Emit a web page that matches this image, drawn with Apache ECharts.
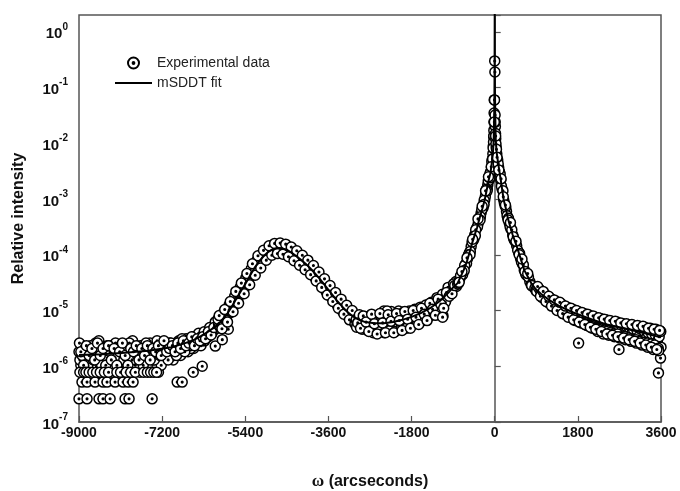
<!DOCTYPE html>
<html>
<head>
<meta charset="utf-8">
<script src="https://cdn.jsdelivr.net/npm/echarts@6/dist/echarts.min.js"></script>
<style>html,body{margin:0;padding:0;background:#fff}#c{width:680px;height:491px}</style>
</head>
<body>
<div id="c"></div>
<script>
// ---------- data ----------
const seriesNames = ['Experimental data', 'mSDDT fit'];
const xMin = -9000, xMax = 3600, xInterval = 1800;
const yMin = 1e-7, yMax = 2;

// left plateau (several overlapping scans)
const plateauA = [
[-9000,1.82e-6],[-8960,1.04e-6],[-8920,2.34e-6],[-8880,1.3e-6],[-8840,0.78e-6],[-8800,1.56e-6],[-8760,2.08e-6],[-8720,1.3e-6],
[-8680,1.04e-6],[-8640,2.6e-6],[-8600,1.56e-6],[-8560,0.78e-6],[-8520,1.82e-6],[-8480,1.3e-6],[-8440,2.08e-6],[-8400,1.04e-6],
[-8360,1.56e-6],[-8320,2.34e-6],[-8280,0.78e-6],[-8240,1.82e-6],[-8200,1.3e-6],[-8160,1.04e-6],[-8120,2.08e-6],[-8080,1.56e-6],
[-8040,0.78e-6],[-8000,2.34e-6],[-7960,1.3e-6],[-7920,1.82e-6],[-7880,1.04e-6],[-7840,2.86e-6],[-7800,1.56e-6],[-7760,1.3e-6],
[-7720,2.08e-6],[-7680,0.78e-6],[-7640,1.82e-6],[-7600,1.56e-6],[-7560,2.34e-6],[-7520,1.04e-6],[-7480,1.82e-6],[-7440,2.08e-6],
[-7400,1.3e-6],[-7360,2.6e-6],[-7320,1.56e-6],[-7280,0.78e-6],[-7240,2.08e-6],[-7200,1.82e-6],[-7160,1.3e-6],[-7120,2.34e-6],
[-7080,1.56e-6],[-7040,2.6e-6],[-7000,1.82e-6],[-6960,1.3e-6],[-6920,2.34e-6],[-6880,2.08e-6],[-6840,2.86e-6],[-6800,1.56e-6],
[-6760,2.6e-6],[-6720,2.08e-6],[-6680,3.12e-6],[-6640,1.82e-6],[-6600,2.34e-6],[-6560,2.86e-6],[-6520,2.08e-6],[-6480,3.38e-6],
[-6440,2.6e-6],[-6400,3.12e-6],[-6360,2.34e-6],[-6320,3.64e-6],[-6280,2.86e-6],[-6240,4.16e-6],[-6200,3.38e-6],[-6160,4.42e-6],
[-6120,3.9e-6],[-6080,5.2e-6],[-6040,4.68e-6],[-6000,5.98e-6]
];
const plateauB = [
[-8980,1.3e-6],[-8900,2.08e-6],[-8820,1.56e-6],[-8740,1.04e-6],[-8660,1.82e-6],[-8580,2.34e-6],[-8500,1.3e-6],[-8420,1.56e-6],
[-8340,1.04e-6],[-8260,2.08e-6],[-8180,1.56e-6],[-8100,1.82e-6],[-8020,1.3e-6],[-7940,2.34e-6],[-7860,1.56e-6],[-7780,1.04e-6],
[-7700,2.08e-6],[-7620,1.3e-6],[-7540,1.82e-6],[-7460,2.6e-6],[-7380,1.56e-6],[-7300,1.82e-6],[-7220,1.04e-6],[-7140,2.08e-6],
[-7060,2.34e-6],[-6980,1.56e-6],[-6900,2.6e-6],[-6820,1.82e-6],[-6740,2.34e-6],[-6660,2.6e-6],[-6580,2.08e-6],[-6500,2.86e-6],
[-6420,3.38e-6],[-6340,2.86e-6],[-6260,3.64e-6],[-6180,3.9e-6],[-6100,4.68e-6],[-6020,5.2e-6]
];
const plateauC = [
[-8990,2.6e-6],[-8930,1.56e-6],[-8870,2.08e-6],[-8810,1.04e-6],[-8750,2.34e-6],[-8690,1.3e-6],[-8630,1.82e-6],[-8570,2.86e-6],
[-8510,1.04e-6],[-8450,1.56e-6],[-8390,2.34e-6],[-8330,1.82e-6],[-8270,1.04e-6],[-8210,2.6e-6],[-8150,1.56e-6],[-8090,2.34e-6],
[-8030,1.3e-6],[-7970,1.82e-6],[-7910,2.6e-6],[-7850,1.3e-6],[-7790,2.08e-6],[-7730,1.56e-6],[-7670,2.34e-6],[-7610,1.04e-6],
[-7550,2.6e-6],[-7490,1.56e-6],[-7430,2.08e-6],[-7370,1.3e-6],[-7310,2.86e-6],[-7250,1.56e-6],[-7190,2.34e-6],[-7130,1.82e-6],
[-7070,1.3e-6],[-7010,2.6e-6],[-6950,2.08e-6],[-6890,1.56e-6],[-6830,2.34e-6],[-6770,3.12e-6],[-6710,1.82e-6],[-6650,2.86e-6],
[-6590,2.34e-6],[-6530,3.38e-6],[-6470,2.6e-6],[-6410,3.9e-6],[-6350,3.12e-6],[-6290,4.16e-6],[-6230,3.38e-6],[-6170,4.94e-6],
[-6110,4.42e-6],[-6050,6.24e-6]
];
const plateauD = [
[-8960,1.82e-6],[-8900,1.04e-6],[-8840,2.34e-6],[-8780,1.56e-6],[-8720,2.08e-6],[-8660,1.3e-6],[-8600,2.6e-6],[-8540,1.56e-6],
[-8480,2.08e-6],[-8420,1.04e-6],[-8360,2.34e-6],[-8300,1.3e-6],[-8240,2.08e-6],[-8180,1.04e-6],[-8120,1.82e-6],[-8060,2.6e-6],
[-8000,1.56e-6],[-7940,1.04e-6],[-7880,2.08e-6],[-7820,1.82e-6],[-7760,2.34e-6],[-7700,1.3e-6],[-7640,2.08e-6],[-7580,1.56e-6],
[-7520,2.34e-6],[-7460,1.3e-6],[-7400,2.08e-6],[-7340,1.82e-6],[-7280,2.34e-6],[-7220,1.56e-6],[-7160,2.86e-6],[-7100,1.82e-6],
[-7040,2.08e-6],[-6980,2.34e-6],[-6920,1.82e-6],[-6860,2.6e-6],[-6800,2.08e-6],[-6740,2.86e-6],[-6680,2.34e-6],[-6620,2.6e-6],
[-6560,3.38e-6],[-6500,2.34e-6],[-6440,3.12e-6],[-6380,2.86e-6],[-6320,3.38e-6],[-6260,3.12e-6],[-6200,4.16e-6],[-6140,3.64e-6],
[-6080,4.94e-6]
];
// low-count points on the plateau
const plateauLow = [
[-9000,2.6e-7],[-8826,2.6e-7],[-8566,2.6e-7],[-8480,2.6e-7],[-8327,2.6e-7],[-8002,2.6e-7],[-7916,2.6e-7],[-7417,2.6e-7],
[-8935,5.2e-7],[-8826,5.2e-7],[-8653,5.2e-7],[-8480,5.2e-7],[-8393,5.2e-7],[-8219,5.2e-7],[-8046,5.2e-7],[-7937,5.2e-7],
[-7829,5.2e-7],[-6874,5.2e-7],[-6766,5.2e-7],
[-8980,7.8e-7],[-8900,7.8e-7],[-8850,7.8e-7],[-8780,7.8e-7],[-8700,7.8e-7],[-8620,7.8e-7],[-8540,7.8e-7],[-8450,7.8e-7],
[-8360,7.8e-7],[-8180,7.8e-7],[-8100,7.8e-7],[-7980,7.8e-7],[-7880,7.8e-7],[-7780,7.8e-7],[-7600,7.8e-7],[-7520,7.8e-7],
[-7450,7.8e-7],[-7380,7.8e-7],[-7320,7.8e-7],[-6527,7.8e-7],[-6332,1.0e-6],[-6050,2.3e-6],[-5898,3.0e-6],[-5768,4.6e-6]
];
// satellite hump
const humpA = [
[-5980,5.8e-6],[-5940,6.6e-6],[-5900,6.2e-6],[-5860,7.8e-6],[-5820,8.0e-6],[-5780,9.5e-6],[-5740,9.0e-6],[-5700,1.15e-5],
[-5660,1.25e-5],[-5620,1.5e-5],[-5580,1.7e-5],[-5540,1.95e-5],[-5500,2.2e-5],[-5460,2.45e-5],[-5420,2.9e-5],[-5380,3.1e-5],
[-5340,3.7e-5],[-5300,4.0e-5],[-5260,4.7e-5],[-5220,5.3e-5],[-5180,6.0e-5],[-5140,6.8e-5],[-5100,7.3e-5],[-5060,8.2e-5],
[-5020,8.9e-5],[-4980,9.8e-5],[-4940,1.05e-4],[-4900,1.13e-4],[-4860,1.18e-4],[-4820,1.25e-4],[-4780,1.27e-4],[-4740,1.31e-4],
[-4700,1.33e-4],[-4660,1.3e-4],[-4620,1.32e-4],[-4580,1.27e-4],[-4540,1.26e-4],[-4500,1.2e-4],[-4460,1.17e-4],[-4420,1.1e-4],
[-4380,1.06e-4],[-4340,1.0e-4],[-4300,9.6e-5],[-4260,9.0e-5],[-4220,8.3e-5],[-4180,7.9e-5],[-4140,7.2e-5],[-4100,6.9e-5],
[-4060,6.3e-5],[-4020,5.9e-5],[-3980,5.4e-5],[-3940,5.0e-5],[-3900,4.6e-5],[-3860,4.3e-5],[-3820,3.9e-5],[-3780,3.5e-5],
[-3740,3.3e-5],[-3700,2.9e-5],[-3660,2.7e-5],[-3620,2.4e-5],[-3580,2.15e-5],[-3540,1.95e-5],[-3500,1.75e-5],[-3460,1.6e-5],
[-3420,1.5e-5],[-3380,1.35e-5],[-3340,1.25e-5],[-3300,1.1e-5],[-3260,1.05e-5],[-3220,9.6e-6],[-3180,9.2e-6],[-3140,8.4e-6],
[-3100,7.9e-6],[-3060,7.6e-6],[-3020,7.1e-6]
];
const humpB = [
[-5960,5.2e-6],[-5880,7.2e-6],[-5800,1.0e-5],[-5720,1.0e-5],[-5640,1.55e-5],[-5560,1.65e-5],[-5480,2.6e-5],[-5400,2.7e-5],
[-5320,4.4e-5],[-5240,4.5e-5],[-5160,7.0e-5],[-5080,7.0e-5],[-5000,1.05e-4],[-4920,1.0e-4],[-4840,1.3e-4],[-4760,1.2e-4],
[-4680,1.42e-4],[-4600,1.22e-4],[-4520,1.35e-4],[-4440,1.05e-4],[-4360,1.12e-4],[-4280,8.6e-5],[-4200,8.8e-5],[-4120,6.4e-5],
[-4040,6.6e-5],[-3960,4.6e-5],[-3880,4.9e-5],[-3800,3.3e-5],[-3720,3.4e-5],[-3640,2.3e-5],[-3560,2.3e-5],[-3480,1.5e-5],
[-3400,1.6e-5],[-3320,1.05e-5],[-3240,1.15e-5],[-3160,7.8e-6],[-3080,8.5e-6]
];
const humpC = [
[-5990,7.0e-6],[-5930,5.0e-6],[-5870,9.2e-6],[-5810,6.6e-6],[-5750,1.25e-5],[-5690,9.6e-6],[-5630,1.8e-5],[-5570,1.4e-5],
[-5510,2.6e-5],[-5450,2.1e-5],[-5390,3.8e-5],[-5330,3.1e-5],[-5270,5.6e-5],[-5210,4.7e-5],[-5150,7.9e-5],[-5090,6.6e-5],
[-5030,1.04e-4],[-4970,8.6e-5],[-4910,1.28e-4],[-4850,1.05e-4],[-4790,1.45e-4],[-4730,1.15e-4],[-4670,1.5e-4],[-4610,1.14e-4],
[-4550,1.44e-4],[-4490,1.05e-4],[-4430,1.3e-4],[-4370,9.2e-5],[-4310,1.1e-4],[-4250,7.6e-5],[-4190,9.3e-5],[-4130,6.3e-5],
[-4070,7.6e-5],[-4010,5.0e-5],[-3950,6.0e-5],[-3890,3.9e-5],[-3830,4.8e-5],[-3770,3.0e-5],[-3710,3.6e-5],[-3650,2.2e-5],
[-3590,2.7e-5],[-3530,1.7e-5],[-3470,2.0e-5],[-3410,1.25e-5],[-3350,1.5e-5],[-3290,9.6e-6],[-3230,1.2e-5],[-3170,7.6e-6],
[-3110,9.6e-6],[-3050,6.4e-6]
];
const humpD = [
[-5965,8.1e-6],[-5905,4.7e-6],[-5845,1.04e-5],[-5785,6.2e-6],[-5725,1.45e-5],[-5665,9.5e-6],[-5605,2.2e-5],[-5545,1.35e-5],
[-5485,3.1e-5],[-5425,2.0e-5],[-5365,4.6e-5],[-5305,2.9e-5],[-5245,6.9e-5],[-5185,4.3e-5],[-5125,9.6e-5],[-5065,5.8e-5],
[-5005,1.2e-4],[-4945,8.0e-5],[-4885,1.45e-4],[-4825,9.8e-5],[-4765,1.6e-4],[-4705,1.05e-4],[-4645,1.62e-4],[-4585,1.02e-4],
[-4525,1.55e-4],[-4465,9.2e-5],[-4405,1.38e-4],[-4345,7.8e-5],[-4285,1.18e-4],[-4225,6.5e-5],[-4165,9.8e-5],[-4105,5.4e-5],
[-4045,8.0e-5],[-3985,4.4e-5],[-3925,6.4e-5],[-3865,3.4e-5],[-3805,4.9e-5],[-3745,2.6e-5],[-3685,3.7e-5],[-3625,1.9e-5],
[-3565,2.8e-5],[-3505,1.45e-5],[-3445,2.1e-5],[-3385,1.1e-5],[-3325,1.6e-5],[-3265,8.6e-6],[-3205,1.24e-5],[-3145,6.8e-6],
[-3085,1.0e-5],[-3025,5.8e-6]
];
// valley between hump and main peak
const valleyA = [
[-3000,6.8e-6],[-2960,6.2e-6],[-2920,7.4e-6],[-2880,5.6e-6],[-2840,6.6e-6],[-2800,5.2e-6],[-2760,7.0e-6],[-2720,5.0e-6],
[-2680,6.4e-6],[-2640,4.6e-6],[-2600,7.2e-6],[-2560,5.4e-6],[-2520,4.4e-6],[-2480,6.8e-6],[-2440,5.0e-6],[-2400,9.8e-6],
[-2360,5.6e-6],[-2320,4.6e-6],[-2280,7.0e-6],[-2240,9.6e-6],[-2200,5.2e-6],[-2160,6.6e-6],[-2120,4.8e-6],[-2080,9.8e-6],
[-2040,6.2e-6],[-2000,5.4e-6],[-1960,7.6e-6],[-1920,6.0e-6],[-1880,9.2e-6],[-1840,5.6e-6],[-1800,8.2e-6],[-1760,6.6e-6],
[-1720,9.4e-6],[-1680,7.0e-6],[-1640,8.8e-6],[-1600,7.4e-6],[-1560,1.0e-5],[-1520,8.2e-6],[-1480,1.1e-5],[-1440,9.0e-6],
[-1400,1.2e-5],[-1360,1.0e-5],[-1320,1.3e-5],[-1280,1.1e-5],[-1240,1.45e-5],[-1200,1.25e-5],[-1160,1.6e-5],[-1120,8.0e-6],
[-1080,1.75e-5],[-1040,1.7e-5],[-1000,2.3e-5],[-960,2.5e-5],[-920,2.6e-5],[-880,2.9e-5],[-840,3.3e-5]
];
const valleyB = [
[-2980,5.6e-6],[-2900,6.0e-6],[-2820,4.8e-6],[-2740,6.0e-6],[-2660,5.4e-6],[-2580,4.4e-6],[-2500,5.8e-6],[-2420,4.2e-6],
[-2340,6.2e-6],[-2260,5.0e-6],[-2180,4.6e-6],[-2100,5.8e-6],[-2020,5.0e-6],[-1940,6.8e-6],[-1860,5.6e-6],[-1780,7.2e-6],
[-1700,6.4e-6],[-1620,8.0e-6],[-1540,7.6e-6],[-1460,9.6e-6],[-1380,9.4e-6],[-1300,1.15e-5],[-1220,1.2e-5],[-1140,1.4e-5],
[-1060,1.5e-5],[-980,2.2e-5],[-900,2.7e-5]
];
const valleyC = [
[-2990,5.0e-6],[-2930,8.4e-6],[-2870,4.6e-6],[-2810,7.8e-6],[-2750,4.4e-6],[-2690,7.6e-6],[-2630,4.0e-6],[-2570,7.8e-6],
[-2510,4.2e-6],[-2450,7.4e-6],[-2390,4.0e-6],[-2330,9.8e-6],[-2270,4.4e-6],[-2210,7.8e-6],[-2150,4.2e-6],[-2090,8.2e-6],
[-2030,4.6e-6],[-1970,9.4e-6],[-1910,4.8e-6],[-1850,9.8e-6],[-1790,5.6e-6],[-1730,1.05e-5],[-1670,6.0e-6],[-1610,1.15e-5],
[-1550,6.6e-6],[-1490,1.25e-5],[-1430,7.6e-6],[-1370,1.4e-5],[-1310,9.0e-6],[-1250,1.7e-5],[-1190,1.1e-5],[-1130,1.95e-5],
[-1070,1.4e-5],[-1010,2.6e-5],[-950,2.0e-5],[-890,3.0e-5],[-830,2.7e-5]
];
const valleyD = [
[-2965,6.0e-6],[-2905,4.8e-6],[-2845,8.0e-6],[-2785,6.2e-6],[-2725,4.2e-6],[-2665,8.6e-6],[-2605,5.8e-6],[-2545,3.8e-6],
[-2485,8.8e-6],[-2425,6.0e-6],[-2365,4.0e-6],[-2305,8.4e-6],[-2245,6.4e-6],[-2185,4.0e-6],[-2125,8.8e-6],[-2065,6.6e-6],
[-2005,4.4e-6],[-1945,9.6e-6],[-1885,7.0e-6],[-1825,4.8e-6],[-1765,1.0e-5],[-1705,7.6e-6],[-1645,5.6e-6],[-1585,1.1e-5],
[-1525,8.6e-6],[-1465,6.6e-6],[-1405,1.35e-5],[-1345,1.05e-5],[-1285,8.2e-6],[-1225,1.6e-5],[-1165,1.3e-5],[-1105,1.1e-5],
[-1045,2.1e-5],[-985,1.8e-5],[-925,2.0e-5],[-865,2.8e-5]
];
// main substrate peak: left branch, centre, right branch (three scans)
const peakLeft = [
[-10,0.06],[-16,0.024],[-22,0.013],[-30,0.009],[-40,0.0065],[-55,0.005],[-70,0.0037],[-90,0.003],[-110,0.0026],[-130,0.0022],
[-150,0.0018],[-170,0.0015],[-190,0.0013],[-217,9.6e-4],[-240,8.0e-4],[-265,6.8e-4],[-295,5.6e-4],[-325,4.6e-4],[-355,3.7e-4],
[-390,3.0e-4],[-434,2.26e-4],[-470,1.8e-4],[-510,1.4e-4],[-545,1.1e-4],[-590,8.5e-5],[-630,6.8e-5],[-672,5.3e-5],[-720,4.3e-5],
[-760,3.6e-5],[-803,3.0e-5],
[-13,0.035],[-19,0.017],[-26,0.0105],[-35,0.0082],[-48,0.0052],[-62,0.0046],[-80,0.0031],[-100,0.0029],[-120,0.0022],[-140,0.0021],
[-160,0.0015],[-180,0.0015],[-204,0.0011],[-228,9.5e-4],[-252,7.0e-4],[-280,6.4e-4],[-310,4.8e-4],[-340,4.3e-4],[-372,3.2e-4],
[-412,2.8e-4],[-452,1.9e-4],[-490,1.7e-4],[-528,1.15e-4],[-568,1.0e-4],[-610,7.0e-5],[-650,6.4e-5],[-696,4.4e-5],[-740,4.2e-5],
[-782,3.1e-5],
[-20,0.0135],[-45,0.0052],[-75,0.0038],[-105,0.0024],[-135,0.0025],[-165,0.0014],[-198,0.0014],[-232,8.0e-4],[-272,7.4e-4],
[-318,4.2e-4],[-362,4.4e-4],[-420,2.2e-4],[-478,1.9e-4],[-535,1.0e-4],[-600,8.8e-5],[-660,5.2e-5],[-710,5.0e-5],[-770,3.2e-5]
];
const peakCentre = [[0,0.30],[4,0.19],[-4,0.06],[8,0.032],[-8,0.024]];
const peakRight = [
[14,0.02],[22,0.012],[32,0.0085],[45,0.0065],[65,0.005],[85,0.0037],[105,0.003],[130,0.0022],[160,0.0015],[195,9.6e-4],
[225,7.6e-4],[255,6.0e-4],[282,4.6e-4],[315,3.7e-4],[350,2.9e-4],[390,2.26e-4],[430,1.8e-4],[475,1.45e-4],[520,1.1e-4],
[560,8.6e-5],[600,6.8e-5],[640,5.3e-5],[700,4.2e-5],[760,3.3e-5],[820,2.7e-5],[890,2.3e-5],
[11,0.024],[18,0.015],[27,0.0098],[38,0.0078],[55,0.0052],[75,0.0043],[95,0.0031],[118,0.0028],[145,0.0017],[178,0.0014],
[210,8.4e-4],[240,7.2e-4],[268,5.0e-4],[298,4.5e-4],[332,3.2e-4],[370,2.8e-4],[410,1.95e-4],[452,1.7e-4],[497,1.2e-4],
[540,1.05e-4],[580,7.4e-5],[620,6.6e-5],[670,4.5e-5],[730,4.0e-5],[790,2.9e-5],[855,2.6e-5],
[20,0.0135],[50,0.0056],[90,0.0033],[138,0.0023],[185,0.0011],[232,7.8e-4],[290,4.2e-4],[340,3.8e-4],[400,2.1e-4],
[460,1.75e-4],[530,1.0e-4],[590,8.4e-5],[655,5.0e-5],[715,4.6e-5],[800,2.8e-5],[870,2.5e-5]
];
// right tail
const rightA = [
[920,2.4e-5],[960,2.2e-5],[1000,2.1e-5],[1040,1.9e-5],[1080,1.8e-5],[1120,1.6e-5],[1160,1.65e-5],[1200,1.45e-5],[1240,1.5e-5],
[1280,1.3e-5],[1320,1.35e-5],[1360,1.15e-5],[1400,1.25e-5],[1440,1.1e-5],[1480,1.15e-5],[1520,9.6e-6],[1560,1.05e-5],
[1600,9.0e-6],[1640,1.0e-5],[1680,8.4e-6],[1720,9.2e-6],[1760,7.6e-6],[1800,8.8e-6],[1840,7.4e-6],[1880,8.2e-6],
[1920,6.6e-6],[1960,7.8e-6],[2000,6.4e-6],[2040,7.6e-6],[2080,5.8e-6],[2120,7.0e-6],[2160,5.4e-6],[2200,6.8e-6],
[2240,5.2e-6],[2280,6.4e-6],[2320,4.8e-6],[2360,6.2e-6],[2400,4.4e-6],[2440,6.0e-6],[2480,4.6e-6],[2520,5.6e-6],
[2560,4.2e-6],[2600,5.6e-6],[2640,4.4e-6],[2680,5.4e-6],[2720,3.8e-6],[2760,5.0e-6],[2800,4.0e-6],[2840,5.2e-6],
[2880,3.6e-6],[2920,4.8e-6],[2960,3.8e-6],[3000,4.6e-6],[3040,3.2e-6],[3080,4.4e-6],[3120,3.4e-6],[3160,4.6e-6],
[3200,3.0e-6],[3240,4.2e-6],[3280,3.2e-6],[3320,4.0e-6],[3360,2.8e-6],[3400,3.8e-6],[3440,2.6e-6],[3480,3.6e-6],
[3520,2.8e-6],[3560,3.4e-6],[3600,2.2e-6]
];
const rightB = [
[900,2.4e-5],[980,2.0e-5],[1060,1.75e-5],[1140,1.5e-5],[1220,1.3e-5],
[1300,1.15e-5],[1380,1.05e-5],[1460,1.0e-5],[1540,8.8e-6],[1620,8.0e-6],[1700,7.4e-6],[1780,6.8e-6],[1860,6.4e-6],
[1940,6.0e-6],[2020,5.4e-6],[2100,5.2e-6],[2180,4.8e-6],[2260,4.6e-6],[2340,4.4e-6],[2420,4.2e-6],[2500,4.0e-6],
[2580,3.8e-6],[2660,3.8e-6],[2740,3.4e-6],[2820,3.4e-6],[2900,3.2e-6],[2980,3.0e-6],[3060,3.0e-6],[3140,2.8e-6],
[3220,2.7e-6],[3300,2.6e-6],[3380,2.5e-6],[3460,2.4e-6],[3540,2.1e-6],[3590,1.4e-6]
];
const rightC = [
[910,2.2e-5],[970,2.4e-5],[1030,1.7e-5],[1090,1.95e-5],
[1150,1.4e-5],[1210,1.65e-5],[1270,1.2e-5],[1330,1.45e-5],[1390,1.0e-5],[1450,1.3e-5],[1510,8.6e-6],[1570,1.15e-5],
[1630,7.6e-6],[1690,1.05e-5],[1750,6.6e-6],[1810,9.6e-6],[1870,6.0e-6],[1930,8.8e-6],[1990,5.4e-6],[2050,8.2e-6],
[2110,4.8e-6],[2170,7.6e-6],[2230,4.2e-6],[2290,7.2e-6],[2350,3.8e-6],[2410,6.8e-6],[2470,3.6e-6],[2530,6.4e-6],
[2590,3.4e-6],[2650,6.2e-6],[2710,3.2e-6],[2770,5.8e-6],[2830,3.0e-6],[2890,5.6e-6],[2950,2.8e-6],[3010,5.4e-6],
[3070,2.6e-6],[3130,5.2e-6],[3190,2.4e-6],[3250,5.0e-6],[3310,2.2e-6],[3370,4.8e-6],[3430,2.0e-6],[3490,4.6e-6],
[3550,1.9e-6],[3595,4.2e-6]
];
const rightD = [
[930,2.7e-5],[990,1.8e-5],[1050,2.2e-5],[1110,1.45e-5],[1170,1.8e-5],[1230,1.2e-5],[1290,1.55e-5],[1350,1.0e-5],
[1410,1.4e-5],[1470,8.8e-6],[1530,1.2e-5],[1590,7.6e-6],[1650,1.1e-5],[1710,6.8e-6],[1770,1.0e-5],[1830,6.2e-6],
[1890,9.2e-6],[1950,5.6e-6],[2010,8.6e-6],[2070,5.0e-6],[2130,8.0e-6],[2190,4.6e-6],[2250,7.4e-6],[2310,4.2e-6],
[2370,7.0e-6],[2430,3.8e-6],[2490,6.6e-6],[2550,3.6e-6],[2610,6.4e-6],[2670,3.4e-6],[2730,6.0e-6],[2790,3.2e-6],
[2850,5.8e-6],[2910,3.0e-6],[2970,5.6e-6],[3030,2.8e-6],[3090,5.4e-6],[3150,2.6e-6],[3210,5.2e-6],[3270,2.4e-6],
[3330,4.8e-6],[3390,2.2e-6],[3450,4.6e-6],[3510,2.0e-6],[3570,4.4e-6]
];
const outliers = [[1816,2.6e-6],[2690,2.0e-6],[3545,7.6e-7],[-1128,7.6e-6]];

// mSDDT fit curve
const fitX = [-9000,-8500,-8000,-7500,-7000,-6700,-6500,-6300,-6150,-6000,-5900,-5800,-5700,-5600,-5500,-5400,-5300,-5200,-5100,-5000,
-4900,-4800,-4700,-4600,-4500,-4400,-4300,-4200,-4100,-4000,-3900,-3800,-3700,-3600,-3500,-3400,-3300,-3200,-3100,-3000,
-2900,-2800,-2600,-2400,-2200,-2000,-1800,-1600,-1400,-1200,-1100,-1000,-900,-803,-740,-672,-610,-545,-490,-434,
-380,-325,-270,-217,-170,-130,-90,-55,-35,-22,-12,-6,-3,0,3,6,12,22,40,65,
100,130,160,195,240,282,335,390,455,520,580,640,720,800,890,1000,1200,1400,1700,2000,
2400,2800,3200,3600];
const fitY = [1.6e-6,1.65e-6,1.75e-6,1.9e-6,2.2e-6,2.6e-6,3.0e-6,3.7e-6,4.5e-6,5.5e-6,6.8e-6,8.5e-6,1.15e-5,1.6e-5,2.2e-5,3.0e-5,4.2e-5,5.8e-5,7.6e-5,9.5e-5,
1.13e-4,1.26e-4,1.32e-4,1.3e-4,1.22e-4,1.09e-4,9.5e-5,8.2e-5,7.0e-5,5.8e-5,4.7e-5,3.8e-5,3.0e-5,2.35e-5,1.85e-5,1.45e-5,1.17e-5,9.6e-6,8.2e-6,7.2e-6,
6.6e-6,6.2e-6,5.9e-6,5.9e-6,6.2e-6,6.8e-6,7.7e-6,9.0e-6,1.1e-5,1.45e-5,1.75e-5,2.1e-5,2.6e-5,3.1e-5,4.0e-5,5.3e-5,7.2e-5,1.1e-4,1.6e-4,2.26e-4,
3.1e-4,4.6e-4,6.6e-4,9.6e-4,1.5e-3,2.2e-3,3.0e-3,5.0e-3,7.5e-3,1.15e-2,0.03,0.08,0.2,3,0.2,0.08,0.03,1.15e-2,7.0e-3,5.0e-3,
3.2e-3,2.2e-3,1.5e-3,9.6e-4,6.8e-4,4.6e-4,3.2e-4,2.26e-4,1.6e-4,1.1e-4,7.6e-5,5.3e-5,4.0e-5,3.0e-5,2.4e-5,2.0e-5,1.5e-5,1.2e-5,9.2e-6,7.4e-6,
5.7e-6,4.8e-6,4.0e-6,3.3e-6];

// ---------- chart ----------
const expData = [].concat(plateauA, plateauB, plateauC, plateauD, plateauLow, humpA, humpB, humpC, humpD,
  valleyA, valleyB, valleyC, valleyD, peakLeft, peakRight, peakCentre, rightA, rightB, rightC, rightD, outliers);
const fitData = fitX.map((x, i) => [x, fitY[i]]);
const ringDot = 'path://M0,-10A10,10 0 1,1 0,10A10,10 0 1,1 0,-10ZM0,-1.6A1.6,1.6 0 1,1 0,1.6A1.6,1.6 0 1,1 0,-1.6Z';
const lineIcon = 'path://M0,0H40V2H0Z';
const FONT = '"Liberation Sans", Arial, Helvetica, sans-serif';

const chart = echarts.init(document.getElementById('c'), null, {renderer: 'canvas'});
chart.setOption({
  animation: false,
  backgroundColor: '#fff',
  grid: {left: 79, right: 19, top: 15, bottom: 69, containLabel: false, outerBoundsMode: 'none',
    show: true, borderColor: '#555', borderWidth: 1.5, backgroundColor: 'transparent'},
  legend: {
    orient: 'vertical', left: 110, top: 51, itemWidth: 37, itemHeight: 11, itemGap: 6,
    textStyle: {fontFamily: FONT, fontSize: 14, color: '#222'},
    data: [
      {name: seriesNames[0], icon: ringDot},
      {name: seriesNames[1], icon: lineIcon, itemStyle: {color: '#000', borderWidth: 0}}
    ]
  },
  xAxis: {
    type: 'value', min: xMin, max: xMax, interval: xInterval,
    axisLine: {show: true, lineStyle: {color: '#555', width: 1.5}},
    axisTick: {show: true, inside: true, length: 6, lineStyle: {color: '#555', width: 1.2}},
    axisLabel: {margin: 4, fontFamily: FONT, fontSize: 14, fontWeight: 'bold', color: '#111',
      formatter: function (v) { return String(v); }},
    splitLine: {show: false},
    name: '{w|ω} (arcseconds)', nameLocation: 'middle', nameGap: 51,
    nameTextStyle: {fontFamily: FONT, fontSize: 16, fontWeight: 'bold', color: '#111',
      rich: {w: {fontFamily: '"Liberation Serif", "DejaVu Serif", serif', fontSize: 17, fontWeight: 'bold', color: '#111'}}}
  },
  yAxis: {
    type: 'log', logBase: 10, min: yMin, max: yMax, splitNumber: 8,
    axisLine: {show: true, lineStyle: {color: '#555', width: 1.5}},
    axisTick: {show: true, inside: true, length: 6, lineStyle: {color: '#555', width: 1.2}},
    axisLabel: {
      margin: 11, color: '#111',
      formatter: function (v) {
        const l = Math.log10(v), e = Math.round(l);
        if (Math.abs(l - e) > 1e-6) return '';
        return '{b|10}{s|' + e + '}';
      },
      rich: {
        b: {fontFamily: FONT, fontSize: 15, fontWeight: 'bold', color: '#111', lineHeight: 20, verticalAlign: 'bottom'},
        s: {fontFamily: FONT, fontSize: 10, fontWeight: 'bold', color: '#111', lineHeight: 20, verticalAlign: 'top'}
      }
    },
    splitLine: {show: false},
    name: 'Relative intensity', nameLocation: 'middle', nameGap: 52, nameRotate: 90,
    nameTextStyle: {fontFamily: FONT, fontSize: 16, fontWeight: 'bold', color: '#111'}
  },
  series: [
    {
      name: seriesNames[0], type: 'scatter', data: expData, symbol: ringDot, symbolSize: 10,
      itemStyle: {color: '#fff', borderColor: '#000', borderWidth: 1.5, opacity: 1},
      z: 2, silent: true
    },
    {
      name: seriesNames[1], type: 'line', data: fitData, symbol: 'none', showSymbol: false,
      lineStyle: {color: '#000', width: 2}, itemStyle: {color: '#000'}, z: 3, clip: true, silent: true
    }
  ]
});
</script>
</body>
</html>
